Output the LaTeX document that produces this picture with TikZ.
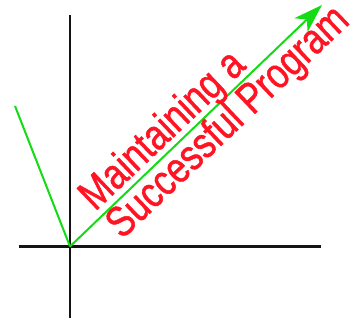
\documentclass[tikz,border=0pt]{standalone}
\usepackage{fontspec}
\setmainfont{Liberation Sans}
\newfontfamily\labelfont{Liberation Sans}[FakeBold=1.2]
\usetikzlibrary{arrows.meta}
\definecolor{axisblack}{RGB}{20,20,20}
\definecolor{arrowgreen}{RGB}{20,220,20}
\definecolor{textred}{RGB}{255,20,35}
\newcommand{\narrowtext}[1]{\scalebox{0.82}[1]{#1}}
\tikzset{
  axis/.style={draw=axisblack, line width=2.6pt},
  greenline/.style={draw=arrowgreen, line width=2pt},
  label/.style={text=textred, font=\labelfont\fontsize{43}{43}\selectfont, inner sep=0pt, anchor=base west, rotate=43.5}
}
\begin{document}
\begin{tikzpicture}[x=1pt,y=-1pt]
\useasboundingbox (0,0) rectangle (360,321);
\coordinate (o) at (70,246.5);
\coordinate (ytop) at (70,15);
\coordinate (ybot) at (70,318);
\coordinate (xl) at (19,246.5);
\coordinate (xr) at (321,246.5);
\coordinate (vl) at (15,106);
\coordinate (tip) at (322,5);
\draw[axis] (ytop) -- (ybot);
\draw[axis] (xl) -- (xr);
\draw[greenline] (vl) -- (o);
\draw[greenline, -{Stealth[length=29pt,width=19pt,inset=8pt]}] (o) -- (tip);
\node[label] (l1) at (95,212) {\narrowtext{Maintaining a}};
\node[label] (l2) at (122,240) {\narrowtext{Successful Program}};
\end{tikzpicture}
\end{document}
